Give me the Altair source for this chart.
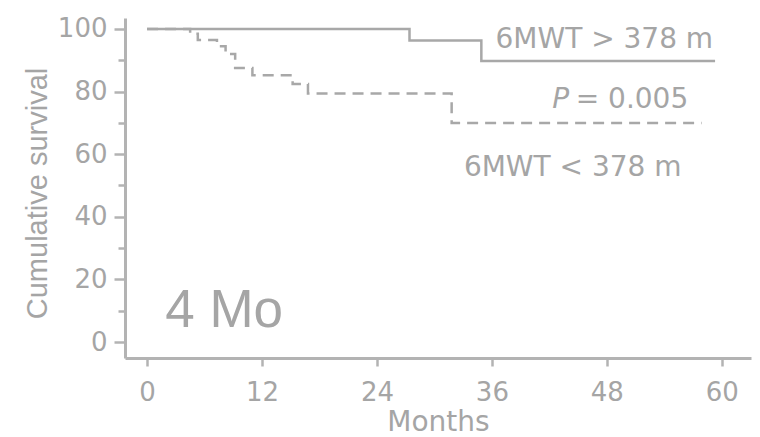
import altair as alt
import pandas as pd

# Kaplan-Meier steps
high_months = [0, 27.4, 34.9, 59.3]
high_surv = [100, 96.3, 89.8, 89.8]

low_months = [0, 4.5, 5.3, 7.3, 8.2, 9.2, 11.0, 15.2, 16.8, 31.8, 57.9]
low_surv = [100, 98.5, 96.5, 94.5, 92.0, 87.5, 85.2, 82.4, 79.4, 70.0, 70.0]

x_ticks = [0, 12, 24, 36, 48, 60]
y_ticks = [0, 20, 40, 60, 80, 100]
y_minor = [10, 30, 50, 70, 90]

# annotations
ann_text = ["6MWT > 378 m", "= 0.005", "P", "6MWT < 378 m", "4 Mo"]
ann_month = [59.1, 56.5, 42.3, 55.8, 1.9]
ann_surv = [93.9, 74.8, 74.8, 52.9, 4.8]

FONT = "Liberation Sans"
WIDE = "DejaVu Sans"
LINE = "#a8a8a8"
AXC = "#b3b3b3"
TXT = "#a5a5a5"

xdom = [-2.3, 63.05]
ydom = [-5.1, 103.5]

df_high = pd.DataFrame({"t": high_months, "s": high_surv})
df_low = pd.DataFrame({"t": low_months, "s": low_surv})
df_ann = pd.DataFrame({"label": ann_text, "t": ann_month, "s": ann_surv})

xscale = alt.Scale(domain=xdom, nice=False, zero=False)
yscale = alt.Scale(domain=ydom, nice=False, zero=False)

xaxis = alt.Axis(values=x_ticks, grid=False, tickSize=8, tickWidth=2.5,
                 domainWidth=3, domainColor=AXC, tickColor=AXC,
                 labelFont=WIDE, labelFontSize=26, labelColor=TXT,
                 labelPadding=13, titleFont=WIDE, titleFontSize=28,
                 titleFontWeight="normal", titleColor=TXT, titlePadding=3)

high = alt.Chart(df_high).mark_line(
    interpolate="step-after", color=LINE, strokeWidth=2.5
).encode(
    x=alt.X("t:Q", scale=xscale, title="Months", axis=xaxis),
    y=alt.Y("s:Q", scale=yscale, title="Cumulative survival",
            axis=alt.Axis(values=y_ticks, grid=False, tickSize=11, tickWidth=2.5,
                          domainWidth=3, domainColor=AXC, tickColor=AXC,
                          labelFont=WIDE, labelFontSize=26, labelColor=TXT,
                          labelPadding=7, titleFont=FONT, titleFontSize=29,
                          titleFontWeight="normal", titleColor=TXT, titlePadding=5,
                          titleY=175)),
)

low = alt.Chart(df_low).mark_line(
    interpolate="step-after", color=LINE, strokeWidth=2.5, strokeDash=[11, 7]
).encode(
    x=alt.X("t:Q", scale=xscale, title="Months", axis=xaxis),
    y=alt.Y("s:Q", scale=yscale,
            axis=alt.Axis(values=y_minor, grid=False, tickSize=7, tickWidth=2.5,
                          domain=False, labels=False, title=None, tickColor=AXC,
                          orient="left")),
)

def text_layer(idx, align, size, font=WIDE, style="normal"):
    return alt.Chart(df_ann.iloc[[idx]]).mark_text(
        align=align, baseline="alphabetic", font=font, fontSize=size,
        fontStyle=style, color=TXT
    ).encode(
        x=alt.X("t:Q", scale=xscale, title="Months", axis=xaxis),
        y=alt.Y("s:Q", scale=yscale, axis=None),
        text="label:N",
    )

chart = alt.layer(
    high, low,
    text_layer(0, "right", 28),
    text_layer(1, "right", 28),
    text_layer(2, "left", 28, style="italic"),
    text_layer(3, "right", 28),
    text_layer(4, "left", 53, font=FONT),
).resolve_axis(y="independent").properties(
    width=626, height=340,
    autosize=alt.AutoSizeParams(type="none"),
    padding={"left": 125, "top": 18, "right": 9, "bottom": 79},
).configure_view(stroke=None)

chart.save("out.html", embed_options={"renderer": "svg", "actions": False})
